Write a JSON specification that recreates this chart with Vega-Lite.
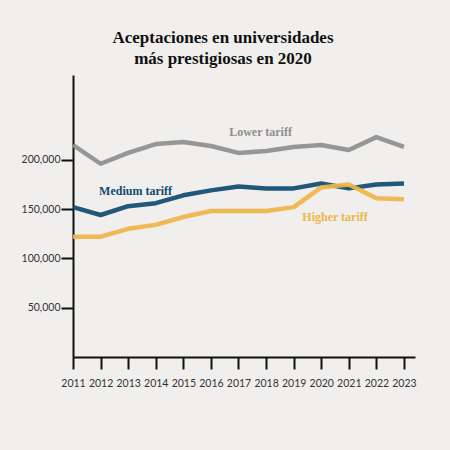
{
  "$schema": "https://vega.github.io/schema/vega-lite/v6.json",
  "width": 342,
  "height": 282,
  "autosize": "none",
  "padding": {"left": 73, "top": 75, "right": 35, "bottom": 93},
  "background": "#f0efed",
  "title": {
    "text": ["Aceptaciones en universidades", "más prestigiosas en 2020"],
    "font": "Liberation Serif",
    "fontSize": 17,
    "fontWeight": "bold",
    "color": "#111111",
    "anchor": "middle",
    "dx": -21,
    "offset": 7,
    "lineHeight": 21
  },
  "config": {
    "view": {"stroke": null},
    "font": "Lato",
    "axis": {
      "title": null,
      "grid": false,
      "domainColor": "#111111",
      "domainWidth": 2,
      "tickColor": "#111111",
      "tickWidth": 2,
      "tickSize": 12,
      "labelFont": "Lato",
      "labelFontSize": 10.5,
      "labelColor": "#333333",
      "labelFlush": false,
      "labelOverlap": false
    },
    "axisX": {"labelPadding": 9},
    "axisY": {"labelPadding": 1}
  },
  "datasets": {
    "series": [
      {"year": 2011, "tariff": "Lower tariff", "value": 215000},
      {"year": 2012, "tariff": "Lower tariff", "value": 196000},
      {"year": 2013, "tariff": "Lower tariff", "value": 207000},
      {"year": 2014, "tariff": "Lower tariff", "value": 216000},
      {"year": 2015, "tariff": "Lower tariff", "value": 218000},
      {"year": 2016, "tariff": "Lower tariff", "value": 214000},
      {"year": 2017, "tariff": "Lower tariff", "value": 207000},
      {"year": 2018, "tariff": "Lower tariff", "value": 209000},
      {"year": 2019, "tariff": "Lower tariff", "value": 213000},
      {"year": 2020, "tariff": "Lower tariff", "value": 215000},
      {"year": 2021, "tariff": "Lower tariff", "value": 210000},
      {"year": 2022, "tariff": "Lower tariff", "value": 223000},
      {"year": 2023, "tariff": "Lower tariff", "value": 213000},
      {"year": 2011, "tariff": "Medium tariff", "value": 152000},
      {"year": 2012, "tariff": "Medium tariff", "value": 144000},
      {"year": 2013, "tariff": "Medium tariff", "value": 153000},
      {"year": 2014, "tariff": "Medium tariff", "value": 156000},
      {"year": 2015, "tariff": "Medium tariff", "value": 164000},
      {"year": 2016, "tariff": "Medium tariff", "value": 169000},
      {"year": 2017, "tariff": "Medium tariff", "value": 173000},
      {"year": 2018, "tariff": "Medium tariff", "value": 171000},
      {"year": 2019, "tariff": "Medium tariff", "value": 171000},
      {"year": 2020, "tariff": "Medium tariff", "value": 176000},
      {"year": 2021, "tariff": "Medium tariff", "value": 171000},
      {"year": 2022, "tariff": "Medium tariff", "value": 175000},
      {"year": 2023, "tariff": "Medium tariff", "value": 176000},
      {"year": 2011, "tariff": "Higher tariff", "value": 122000},
      {"year": 2012, "tariff": "Higher tariff", "value": 122000},
      {"year": 2013, "tariff": "Higher tariff", "value": 130000},
      {"year": 2014, "tariff": "Higher tariff", "value": 134000},
      {"year": 2015, "tariff": "Higher tariff", "value": 142000},
      {"year": 2016, "tariff": "Higher tariff", "value": 148000},
      {"year": 2017, "tariff": "Higher tariff", "value": 148000},
      {"year": 2018, "tariff": "Higher tariff", "value": 148000},
      {"year": 2019, "tariff": "Higher tariff", "value": 152000},
      {"year": 2020, "tariff": "Higher tariff", "value": 172000},
      {"year": 2021, "tariff": "Higher tariff", "value": 175000},
      {"year": 2022, "tariff": "Higher tariff", "value": 161000},
      {"year": 2023, "tariff": "Higher tariff", "value": 160000}
    ],
    "labels": [
      {"year": 2017.8, "tariff": "Lower tariff", "value": 228000},
      {"year": 2013.27, "tariff": "Medium tariff", "value": 168500},
      {"year": 2020.5, "tariff": "Higher tariff", "value": 142000}
    ]
  },
  "encoding": {
    "x": {
      "field": "year",
      "type": "quantitative",
      "scale": {"domain": [2011, 2023.4], "nice": false, "zero": false},
      "axis": {
        "values": [2011, 2012, 2013, 2014, 2015, 2016, 2017, 2018, 2019, 2020, 2021, 2022, 2023],
        "format": "d",
        "labelOverlap": false
      }
    },
    "y": {
      "field": "value",
      "type": "quantitative",
      "scale": {"domain": [0, 286000], "nice": false},
      "axis": {
        "values": [50000, 100000, 150000, 200000],
        "format": ",.0f"
      }
    },
    "color": {
      "field": "tariff",
      "type": "nominal",
      "scale": {
        "domain": ["Lower tariff", "Medium tariff", "Higher tariff"],
        "range": ["#8e8e8e", "#0f4a6f", "#efb548"]
      },
      "legend": null
    }
  },
  "layer": [
    {
      "data": {"name": "series"},
      "mark": {"type": "line", "strokeWidth": 4.5, "interpolate": "linear", "strokeJoin": "round", "opacity": 0.92},
      "encoding": {
        "detail": {"field": "tariff"}
      }
    },
    {
      "data": {"name": "labels"},
      "mark": {"type": "text", "font": "Liberation Serif", "fontWeight": "bold", "fontSize": 12, "align": "center", "baseline": "middle"},
      "encoding": {
        "text": {"field": "tariff"}
      }
    }
  ]
}
